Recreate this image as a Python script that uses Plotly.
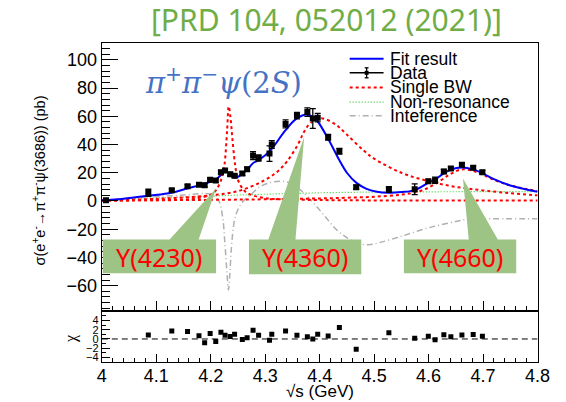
import plotly.graph_objects as go

# ---------------- data ----------------
data_x = [4.0076, 4.0854, 4.1285, 4.1574, 4.1784, 4.1888, 4.1989, 4.2092, 4.2187, 4.2263,
          4.2357, 4.2438, 4.2580, 4.2668, 4.2777, 4.2879, 4.3079, 4.3121, 4.3374, 4.3583,
          4.3774, 4.3874, 4.3964, 4.4156, 4.4362, 4.4671, 4.5271, 4.5745, 4.5995, 4.6119,
          4.6280, 4.6409, 4.6612, 4.6819, 4.6988]
data_y = [0.6, 5.8, 7.6, 10.5, 11.5, 11.2, 15.0, 14.5, 20.4, 21.6,
          19.0, 17.8, 19.4, 22.5, 32.2, 30.5, 33.6, 40.0, 54.6, 60.5,
          63.0, 58.5, 59.0, 45.1, 35.2, 9.8, 8.1, 8.3, 14.0, 14.7,
          20.9, 23.0, 25.6, 23.5, 20.4]
data_err = [0.5, 2.5, 1.0, 1.0, 0.8, 1.2, 1.2, 1.2, 1.3, 1.0,
            1.2, 1.2, 1.2, 1.5, 2.8, 2.2, 5.5, 2.8, 2.8, 2.3,
            3.0, 7.0, 3.0, 2.0, 2.0, 1.5, 2.0, 3.8, 1.3, 2.2,
            1.5, 1.3, 1.3, 1.2, 1.3]

chi_x = data_x[1:]
chi_y = [0.85, 1.7, 1.6, 0.7, -0.8, 1.2, -0.55, 1.45, 0.8, 0.55,
         1.0, -0.1, 0.25, 1.9, 0.8, -0.3, 1.0, 1.7, 0.8, 0.5,
         0.0, 1.0, 0.65, 2.5, -2.2, 1.35, 0.15, 0.6, -0.15, 0.9,
         0.5, 0.85, 0.95, 0.6]

fit_x = [4.00, 4.04, 4.085, 4.128, 4.157, 4.178, 4.189, 4.199, 4.209, 4.219, 4.226, 4.231,
         4.236, 4.244, 4.251, 4.258, 4.267, 4.278, 4.288, 4.31, 4.337, 4.358, 4.377, 4.387,
         4.396, 4.416, 4.436, 4.45, 4.467, 4.485, 4.505, 4.527, 4.55, 4.575, 4.60, 4.612,
         4.628, 4.641, 4.661, 4.682, 4.699, 4.72, 4.75, 4.80]
fit_y = [0.3, 1.6, 3.7, 5.9, 8.9, 10.9, 12.2, 13.6, 15.2, 18.5, 20.8, 20.5,
         18.3, 16.6, 17.2, 19.5, 22.1, 26.9, 28.9, 36.0, 50.0, 58.5, 61.3, 59.5,
         56.5, 43.8, 29.0, 20.0, 13.0, 8.8, 6.6, 5.9, 6.3, 7.7, 13.0, 15.3,
         19.5, 22.3, 23.8, 22.4, 19.6, 15.5, 11.0, 6.5]

bw1_x = [4.00, 4.10, 4.15, 4.18, 4.20, 4.21, 4.22, 4.225, 4.23, 4.233, 4.236, 4.24,
         4.245, 4.25, 4.26, 4.27, 4.30, 4.35, 4.45, 4.60, 4.80]
bw1_y = [0.3, 0.6, 1.0, 2.3, 4.5, 7.8, 16, 25, 50, 67, 60, 43,
         25, 15, 8, 5, 2, 1, 0.5, 0.35, 0.3]

bw2_x = [4.00, 4.10, 4.20, 4.25, 4.29, 4.32, 4.34, 4.36, 4.37, 4.38, 4.39, 4.40, 4.41,
         4.43, 4.45, 4.48, 4.50, 4.55, 4.60, 4.65, 4.70, 4.75, 4.80]
bw2_y = [0.5, 1.5, 4.0, 7.0, 13, 20, 28, 40, 48, 54, 57, 58.5, 58,
         54, 47, 36, 30, 20, 14, 10, 7.5, 5.5, 4.0]

bw3_x = [4.00, 4.20, 4.30, 4.40, 4.45, 4.50, 4.55, 4.58, 4.60, 4.62, 4.64, 4.66, 4.68,
         4.70, 4.72, 4.75, 4.80]
bw3_y = [0.3, 0.8, 1.2, 1.8, 2.3, 3.0, 4.5, 6.5, 9.5, 14, 19, 22.3, 21.5,
         18.5, 15, 11, 7]

nr_x = [4.00, 4.05, 4.10, 4.15, 4.20, 4.25, 4.30, 4.35, 4.40, 4.45, 4.50, 4.60, 4.70, 4.80]
nr_y = [0.5, 1.5, 2.2, 2.8, 3.5, 4.2, 4.8, 5.3, 5.8, 6.1, 6.3, 6.5, 6.6, 6.7]

int_x = [4.00, 4.05, 4.10, 4.15, 4.19, 4.205, 4.215, 4.222, 4.226, 4.230, 4.2325, 4.235,
         4.238, 4.243, 4.25, 4.26, 4.275, 4.29, 4.31, 4.33, 4.35, 4.37, 4.39, 4.41, 4.43,
         4.45, 4.47, 4.49, 4.51, 4.55, 4.60, 4.65, 4.67, 4.70, 4.80]
int_y = [0.5, 2.0, 3.2, 4.2, 5.3, 4.0, 0.0, -12, -30, -52, -63, -52,
         -33, -15, -6, 0, 5, 10, 13, 14, 12, 6, -2, -11, -20,
         -26, -30, -31, -29.5, -25, -19, -14.5, -13, -12.6, -12.6]

x_range = [4.0, 4.8]
y_range = [-78.1, 112.0]
chi_range = [-5.0, 6.0]
y_ticks = [-60, -40, -20, 0, 20, 40, 60, 80, 100]
chi_ticks = [-4, -2, 0, 2, 4]
x_ticks = [4.0, 4.1, 4.2, 4.3, 4.4, 4.5, 4.6, 4.7, 4.8]
x_ticklabels = ["4", "4.1", "4.2", "4.3", "4.4", "4.5", "4.6", "4.7", "4.8"]

W, H = 566, 402
def px(x): return x / W
def py(y): return 1 - y / H

RED = "#FF0000"
BLUE = "#0000FF"
GREEN = "#33CC33"
GRAY = "#B0B0B0"
BOXG = "#9DC385"
FONT = "Liberation Sans, Arial, sans-serif"

fig = go.Figure()

fig.add_trace(go.Scatter(x=int_x, y=int_y, mode="lines", line=dict(color=GRAY, width=1.5, dash="6px,3px,1px,3px"),
                         line_shape="spline", xaxis="x", yaxis="y"))
fig.add_trace(go.Scatter(x=nr_x, y=nr_y, mode="lines", line=dict(color=GREEN, width=1.2, dash="1px,2px"),
                         line_shape="spline", xaxis="x", yaxis="y"))
for bx, byv in [(bw1_x, bw1_y), (bw2_x, bw2_y), (bw3_x, bw3_y)]:
    fig.add_trace(go.Scatter(x=bx, y=byv, mode="lines", line=dict(color=RED, width=2, dash="3px,3px"),
                             line_shape="spline", xaxis="x", yaxis="y"))
fig.add_trace(go.Scatter(x=fit_x, y=fit_y, mode="lines", line=dict(color=BLUE, width=2),
                         line_shape="spline", xaxis="x", yaxis="y"))
fig.add_trace(go.Scatter(x=data_x, y=data_y, mode="markers",
                         marker=dict(symbol="square", size=6, color="black"),
                         error_y=dict(type="data", array=data_err, color="black", thickness=1.3, width=3),
                         xaxis="x", yaxis="y"))

# chi panel
fig.add_trace(go.Scatter(x=x_range, y=[0, 0], mode="lines", line=dict(color="black", width=1, dash="6px,4px"),
                         xaxis="x2", yaxis="y2"))
fig.add_trace(go.Scatter(x=chi_x, y=chi_y, mode="markers", marker=dict(symbol="square", size=5, color="black"),
                         xaxis="x2", yaxis="y2"))

main_dom = [py(312), py(43)]
chi_dom = [py(363), py(312)]
xdom = [px(100), px(550)]

axis_common = dict(showline=True, linecolor="black", linewidth=1.2, mirror=True, showgrid=False,
                   zeroline=False, ticks="inside", tickcolor="black")

fig.update_layout(
    width=W, height=H, margin=dict(l=0, r=0, t=0, b=0),
    paper_bgcolor="white", plot_bgcolor="white", showlegend=False,
    font=dict(family=FONT, color="black"),
    xaxis=dict(domain=xdom, range=x_range, anchor="y", tickvals=x_ticks, showticklabels=False,
               ticklen=10, minor=dict(dtick=0.02, ticklen=5, ticks="inside", tickcolor="black"),
               **axis_common),
    yaxis=dict(domain=main_dom, range=y_range, anchor="x", tickvals=y_ticks, ticklen=16,
               tickfont=dict(size=18, family=FONT),
               minor=dict(dtick=4, ticklen=8, ticks="inside", tickcolor="black"), **axis_common),
    xaxis2=dict(domain=xdom, range=x_range, anchor="y2", tickvals=x_ticks, ticktext=x_ticklabels,
                tickfont=dict(size=18, family=FONT), ticklen=8, ticklabelstandoff=-3,
                minor=dict(dtick=0.02, ticklen=4, ticks="inside", tickcolor="black"), **axis_common),
    yaxis2=dict(domain=chi_dom, range=chi_range, anchor="x2", tickvals=chi_ticks, ticklen=8,
                tickfont=dict(size=11, family=FONT),
                minor=dict(dtick=1, ticklen=4, ticks="inside", tickcolor="black"), **axis_common),
)

shapes = []
def poly(pts):
    d = "M " + " L ".join(f"{px(a):.5f},{py(b):.5f}" for a, b in pts) + " Z"
    return dict(type="path", path=d, xref="paper", yref="paper", fillcolor=BOXG, line=dict(width=0), layer="above")

shapes.append(poly([(101, 240), (170, 240), (218, 189), (200, 240), (218, 240), (218, 274), (101, 274)]))
shapes.append(poly([(252, 240), (272, 240), (309, 137), (300, 240), (368, 240), (368, 275), (252, 275)]))
shapes.append(poly([(412, 240), (479, 240), (473, 179), (509, 240), (528, 240), (528, 274), (412, 274)]))

# legend glyphs
leg_x0, leg_x1 = 356, 391
rows = [59, 73, 87.7, 102.3, 116]
def hline(y, color, width, dash):
    return dict(type="line", xref="paper", yref="paper", x0=px(leg_x0), x1=px(leg_x1), y0=py(y), y1=py(y),
                line=dict(color=color, width=width, dash=dash))
shapes.append(hline(rows[0], BLUE, 2, "solid"))
shapes.append(hline(rows[1], "black", 1.5, "solid"))
shapes.append(dict(type="line", xref="paper", yref="paper", x0=px(373.5), x1=px(373.5), y0=py(68), y1=py(78),
                   line=dict(color="black", width=1.3)))
shapes.append(dict(type="line", xref="paper", yref="paper", x0=px(371.5), x1=px(375.5), y0=py(68), y1=py(68),
                   line=dict(color="black", width=1.3)))
shapes.append(dict(type="line", xref="paper", yref="paper", x0=px(371.5), x1=px(375.5), y0=py(78), y1=py(78),
                   line=dict(color="black", width=1.3)))
shapes.append(dict(type="rect", xref="paper", yref="paper", x0=px(371.5), x1=px(375.5), y0=py(71), y1=py(75),
                   fillcolor="black", line=dict(width=0)))
shapes.append(hline(rows[2], RED, 2, "3px,3px"))
shapes.append(hline(rows[3], GREEN, 1.2, "1px,2px"))
shapes.append(hline(rows[4], GRAY, 1.5, "6px,3px,1px,3px"))
fig.update_layout(shapes=shapes)

ann = []
for txt, y in zip(["Fit result", "Data", "Single BW", "Non-resonance", "Inteference"], rows):
    ann.append(dict(text=txt, x=px(397), y=py(y), xref="paper", yref="paper", xanchor="left", yanchor="middle",
                    showarrow=False, borderpad=0, font=dict(size=17.5, family=FONT, color="black")))

ann.append(dict(text="[PRD 104, 052012 (2021)]", x=px(332), y=py(20), xref="paper", yref="paper",
                xanchor="center", yanchor="middle", showarrow=False,
                font=dict(size=30, family="Noto Sans, sans-serif", color="#70AD47")))
ann.append(dict(text="<i>π</i><sup>+</sup><i>π</i><sup>−</sup><i>ψ</i>(2<i>S</i>)", x=px(143), y=py(81),
                xref="paper", yref="paper", xanchor="left", yanchor="middle", showarrow=False,
                font=dict(size=29, family="DejaVu Serif, serif", color="#4472C4")))
for txt, cx in [("Y(4230)", 159), ("Y(4360)", 310), ("Y(4660)", 470)]:
    ann.append(dict(text=txt, x=px(cx), y=py(257.5), xref="paper", yref="paper", xanchor="center",
                    yanchor="middle", showarrow=False,
                    font=dict(size=25, family="Noto Sans, sans-serif", color="#FF0000")))
ann.append(dict(text="σ(e<sup>+</sup>e<sup>-</sup>→π<sup>+</sup>π<sup>-</sup>ψ(3686)) (pb)", x=px(35), y=py(181),
                xref="paper", yref="paper", xanchor="center", yanchor="middle", textangle=-90, showarrow=False,
                font=dict(size=14.5, family=FONT, color="black")))
ann.append(dict(text="χ", x=px(68), y=py(339), xref="paper", yref="paper", xanchor="center", yanchor="middle",
                textangle=-90, showarrow=False, font=dict(size=16, family="Liberation Serif, serif", color="black")))
ann.append(dict(text="√s (GeV)", x=px(325), y=py(392), xref="paper", yref="paper", xanchor="center",
                yanchor="middle", showarrow=False, font=dict(size=17, family=FONT, color="black")))
fig.update_layout(annotations=ann)

fig.write_html("out.html")
